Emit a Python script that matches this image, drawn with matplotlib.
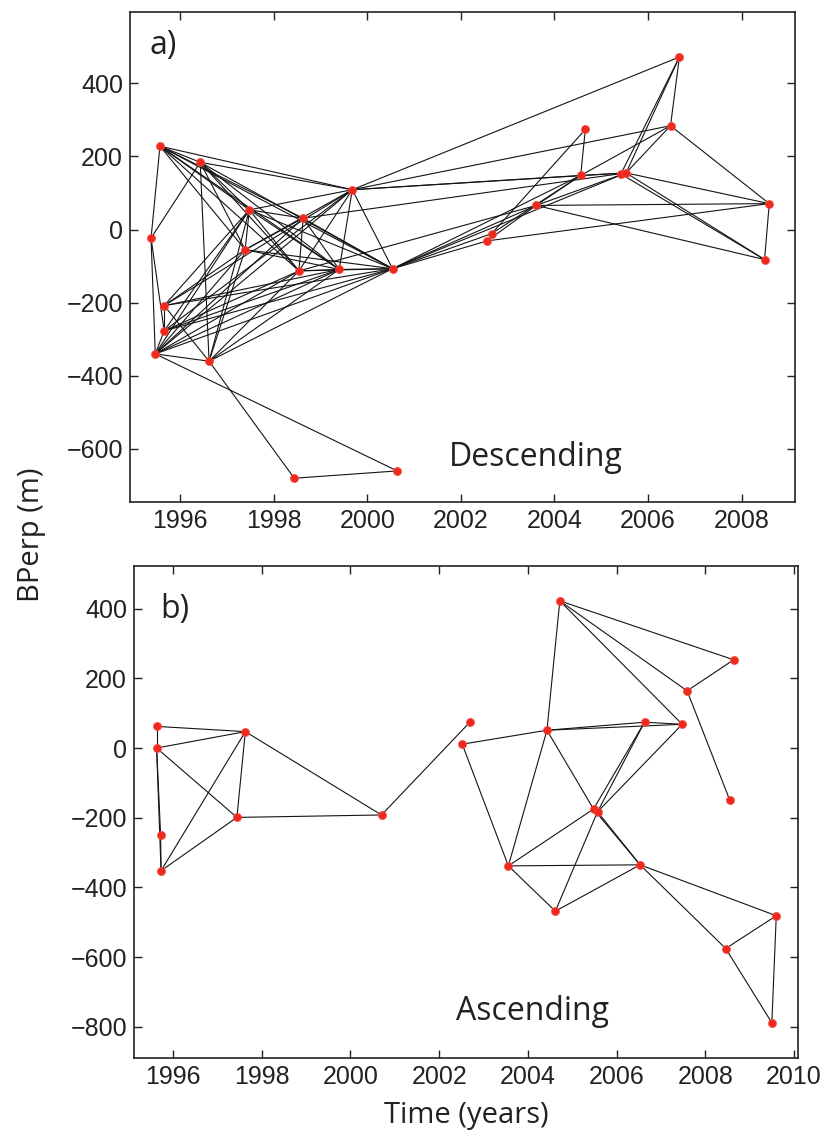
import matplotlib
matplotlib.use("Agg")
import matplotlib.pyplot as plt

# --- Descending network (panel a) ---
t_desc = [1995.57, 1996.43, 1995.38, 1997.48, 1998.63, 1999.68, 1997.39, 1998.54,
          1999.40, 1995.66, 1995.66, 1995.47, 1996.62, 1998.44, 2000.64, 2000.54,
          2002.66, 2002.56, 2003.61, 2004.56, 2004.66, 2005.42, 2005.53, 2006.48,
          2006.67, 2008.59, 2008.49]
b_desc = [228, 184, -23, 54, 31, 109, -55, -113,
          -109, -208, -277, -340, -360, -680, -660, -107,
          -11, -31, 66, 148, 274, 152, 155, 284,
          472, 71, -82]
e_desc = [(0, 2), (0, 1), (0, 5), (0, 4), (0, 8), (0, 7), (0, 6), (0, 3), (0, 15),
          (1, 2), (1, 5), (1, 3), (1, 6), (1, 8), (1, 7), (1, 12), (1, 15),
          (2, 11), (2, 10),
          (3, 5), (3, 4), (3, 6), (3, 7), (3, 8), (3, 9), (3, 10), (3, 11), (3, 12), (3, 15),
          (4, 7), (4, 8), (4, 6), (4, 11), (4, 22), (4, 15),
          (5, 7), (5, 8), (5, 15), (5, 6), (5, 11), (5, 10), (5, 9), (5, 19), (5, 22), (5, 23), (5, 24),
          (6, 8), (6, 9), (6, 11), (6, 12), (6, 15),
          (7, 8), (7, 15), (7, 10), (7, 11), (7, 12), (7, 18),
          (8, 15), (8, 9), (8, 10), (8, 11), (8, 12),
          (9, 10), (10, 11), (9, 12), (11, 12), (9, 15), (10, 15), (11, 15), (11, 14),
          (12, 13), (12, 15), (13, 14),
          (15, 17), (15, 16), (15, 18), (15, 19), (15, 22),
          (16, 20), (17, 18), (17, 25), (16, 19),
          (18, 19), (18, 22), (18, 25), (18, 26),
          (19, 20), (19, 22), (19, 23),
          (21, 24), (21, 26), (22, 23), (22, 24), (22, 25), (22, 26), (23, 24), (23, 25), (25, 26)]

# --- Ascending network (panel b) ---
t_asc = [1995.63, 1995.63, 1995.72, 1995.73, 1997.63, 1997.44, 2000.70, 2002.70,
         2002.52, 2003.56, 2004.43, 2004.72, 2004.62, 2005.48, 2005.57, 2006.63,
         2006.53, 2007.48, 2007.59, 2008.64, 2008.55, 2009.60, 2008.46, 2009.50]
b_asc = [62, 0, -249, -352, 47, -199, -192, 75,
         11, -338, 51, 422, -468, -175, -183, 74,
         -335, 68, 164, 253, -149, -481, -575, -788]
e_asc = [(0, 1), (0, 4), (1, 4), (1, 2), (2, 3), (1, 3), (1, 5), (3, 4), (3, 5),
         (4, 5), (4, 6), (5, 6), (6, 7),
         (8, 10), (8, 9), (9, 10), (9, 13), (9, 16), (9, 12), (12, 16), (12, 14),
         (10, 11), (10, 15), (10, 17), (10, 13), (15, 17), (15, 13), (15, 14), (17, 14),
         (11, 19), (11, 18), (11, 17), (18, 19), (18, 20),
         (13, 16), (14, 16), (16, 21), (16, 22), (21, 22), (21, 23), (22, 23)]

W, H = 827, 1141
fig = plt.figure(figsize=(W / 100, H / 100), dpi=100)
tick_fam = ['Liberation Sans Narrow', 'Liberation Sans']
tick_font = {'family': tick_fam, 'size': 18}
text_font = ['Open Sans', 'DejaVu Sans']
ink = '#222222'


def fmt(v):
    return '\u2212' + str(-v) if v < 0 else str(v)


def draw_net(ax, t, b, edges):
    for i, j in edges:
        ax.plot([t[i], t[j]], [b[i], b[j]], color='#141414', lw=0.8, zorder=1)
    ax.plot(t, b, 'o', color='#ee2a1f', ms=5.8, mec='#f25040', mew=0.5, zorder=2)
    ax.tick_params(direction='in', top=True, right=True, length=6, width=1.0,
                   pad=5, colors=ink)
    for s in ax.spines.values():
        s.set_linewidth(1.2)
        s.set_color(ink)


ax1 = fig.add_axes([130 / W, (H - 502) / H, 665 / W, 490 / H])
draw_net(ax1, t_desc, b_desc, e_desc)
ax1.set_xlim(1994.93, 2009.14)
ax1.set_ylim(-745, 595)
xt1 = list(range(1996, 2009, 2))
yt1 = list(range(-600, 401, 200))
ax1.set_xticks(xt1)
ax1.set_yticks(yt1)
ax1.set_xticklabels([str(v) for v in xt1], fontdict=tick_font)
ax1.set_yticklabels([fmt(v) for v in yt1], fontdict=tick_font)
ax1.text(0.03, 0.965, 'a)', transform=ax1.transAxes, ha='left', va='top',
         fontsize=23, family=text_font, color=ink)
ax1.text(0.61, 0.09, 'Descending', transform=ax1.transAxes, ha='center', va='center',
         fontsize=23, family=text_font, color=ink)

ax2 = fig.add_axes([134 / W, (H - 1058) / H, 664 / W, 492 / H])
draw_net(ax2, t_asc, b_asc, e_asc)
ax2.set_xlim(1995.12, 2010.09)
ax2.set_ylim(-889, 522)
xt2 = list(range(1996, 2011, 2))
yt2 = list(range(-800, 401, 200))
ax2.set_xticks(xt2)
ax2.set_yticks(yt2)
ax2.set_xticklabels([str(v) for v in xt2], fontdict=tick_font)
ax2.set_yticklabels([fmt(v) for v in yt2], fontdict=tick_font)
ax2.text(0.04, 0.945, 'b)', transform=ax2.transAxes, ha='left', va='top',
         fontsize=23, family=text_font, color=ink)
ax2.text(0.60, 0.095, 'Ascending', transform=ax2.transAxes, ha='center', va='center',
         fontsize=23, family=text_font, color=ink)
ax2.set_xlabel('Time (years)', fontsize=21, family=text_font, color=ink, labelpad=9)

fig.text(32 / W, 1 - 535 / H, 'BPerp (m)', rotation=90, ha='center', va='center',
         fontsize=21, family=text_font, color=ink)

fig.savefig('out.png', dpi=100)
